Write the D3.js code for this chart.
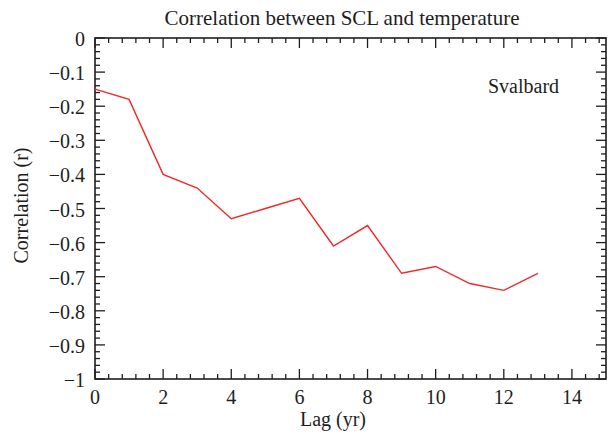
<!DOCTYPE html>
<html><head><meta charset="utf-8">
<script src="https://cdn.jsdelivr.net/npm/d3@7"></script>
<style>body{margin:0;background:#fff}svg{display:block}</style>
</head><body><svg id="c" width="608" height="440"></svg>
<script>
const lags = [0,1,2,3,4,5,6,7,8,9,10,11,12,13];
const corr = [-0.15,-0.18,-0.40,-0.44,-0.53,-0.50,-0.47,-0.61,-0.55,-0.69,-0.67,-0.72,-0.74,-0.69];
const xTicks = [0,2,4,6,8,10,12,14];
const yTicks = [0,-0.1,-0.2,-0.3,-0.4,-0.5,-0.6,-0.7,-0.8,-0.9,-1];
const title = "Correlation between SCL and temperature";
const xLabel = "Lag (yr)";
const yLabel = "Correlation (r)";
const seriesName = "Svalbard";

const FONT = "Liberation Serif";
const svg = d3.select("#c");
const ink = "#1e1e1e";
const m = {l:95, r:606, t:38, b:379};
const x = d3.scaleLinear().domain([0,15]).range([m.l, m.r]);
const y = d3.scaleLinear().domain([-1,0]).range([m.b, m.t]);
const fmt = v => v === 0 ? "0" : (v === -1 ? "\u22121" : "\u2212" + Math.abs(v).toFixed(1));

const xMinor = d3.range(0, 15.001, 0.4).map(v=>+v.toFixed(2));
const yMinor = d3.range(-1, 0.001, 0.02).map(v=>+v.toFixed(2));
const g = svg.append("g").attr("stroke",ink).attr("stroke-width",1.3);
function isMajorX(v){return Math.abs(v/2 - Math.round(v/2))<1e-6;}
function isMajorY(v){return Math.abs(v*10 - Math.round(v*10))<1e-6;}
xMinor.forEach(v=>{
  const L = isMajorX(v)?10:5;
  g.append("line").attr("x1",x(v)).attr("x2",x(v)).attr("y1",m.b).attr("y2",m.b-L);
  g.append("line").attr("x1",x(v)).attr("x2",x(v)).attr("y1",m.t).attr("y2",m.t+L);
});
yMinor.forEach(v=>{
  const L = isMajorY(v)?10:5;
  g.append("line").attr("y1",y(v)).attr("y2",y(v)).attr("x1",m.l).attr("x2",m.l+L);
  g.append("line").attr("y1",y(v)).attr("y2",y(v)).attr("x1",m.r).attr("x2",m.r-L);
});
svg.append("rect").attr("x",m.l).attr("y",m.t).attr("width",m.r-m.l).attr("height",m.b-m.t)
  .attr("fill","none").attr("stroke",ink).attr("stroke-width",1.6);

svg.selectAll(".xt").data(xTicks).enter().append("text").attr("class","xt").attr("fill",ink).attr("font-family",FONT)
  .attr("x",d=>x(d)).attr("y",404).attr("text-anchor","middle").attr("font-size",20).text(d=>d);
svg.selectAll(".yt").data(yTicks).enter().append("text").attr("class","yt").attr("fill",ink).attr("font-family",FONT)
  .attr("x",85).attr("y",d=>y(d)+8).attr("text-anchor","end").attr("font-size",20).text(fmt);

svg.append("text").attr("fill",ink).attr("font-family",FONT).attr("x",342).attr("y",24.5).attr("text-anchor","middle").attr("font-size",21).text(title);
svg.append("text").attr("fill",ink).attr("font-family",FONT).attr("x",333).attr("y",426).attr("text-anchor","middle").attr("font-size",20).text(xLabel);
svg.append("text").attr("fill",ink).attr("font-family",FONT).attr("transform","translate(28,205.5) rotate(-90)").attr("text-anchor","middle").attr("font-size",20).text(yLabel);
svg.append("text").attr("fill",ink).attr("font-family",FONT).attr("x",488).attr("y",92.5).attr("font-size",20).text(seriesName);

const line = d3.line().x((d,i)=>x(lags[i])).y(d=>y(d));
svg.append("path").datum(corr).attr("d",line).attr("fill","none").attr("stroke","#f02828").attr("stroke-width",1.4);
</script></body></html>
